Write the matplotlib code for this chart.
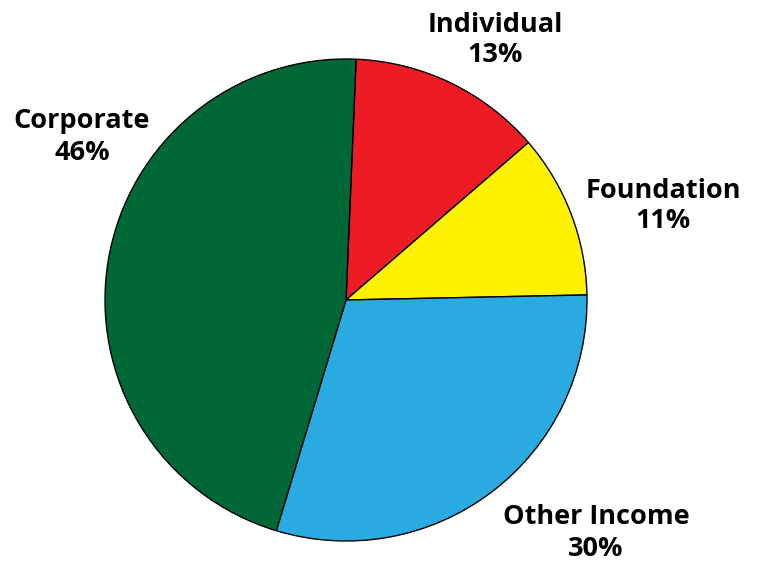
import matplotlib
matplotlib.use("Agg")
import matplotlib.pyplot as plt

categories = ["Individual", "Foundation", "Other Income", "Corporate"]
shares = [13, 11, 30, 46]
colors = ["#ED1C24", "#FFF200", "#29ABE2", "#006837"]

# label anchor points in pixel space (x from left, y from top)
label_pos = [(495, 40), (663, 206), (596, 533), (82, 137)]

W, H = 758, 567
fig = plt.figure(figsize=(W / 100, H / 100), dpi=100)
ax = fig.add_axes([0, 0, 1, 1])

ax.pie(
    shares,
    colors=colors,
    startangle=87.6,
    counterclock=False,
    center=(346, H - 300),
    radius=241,
    wedgeprops=dict(edgecolor="black", linewidth=1.0),
    frame=True,
)

for name, val, (x, y) in zip(categories, shares, label_pos):
    ax.text(x, H - y, f"{name}\n{val}%", ha="center", va="center",
            fontsize=19.5, fontweight="bold", family="Open Sans",
            linespacing=1.25, color="black")

ax.set_xlim(0, W)
ax.set_ylim(0, H)
ax.set_aspect("equal")
ax.axis("off")

fig.savefig("out.png", dpi=100)
